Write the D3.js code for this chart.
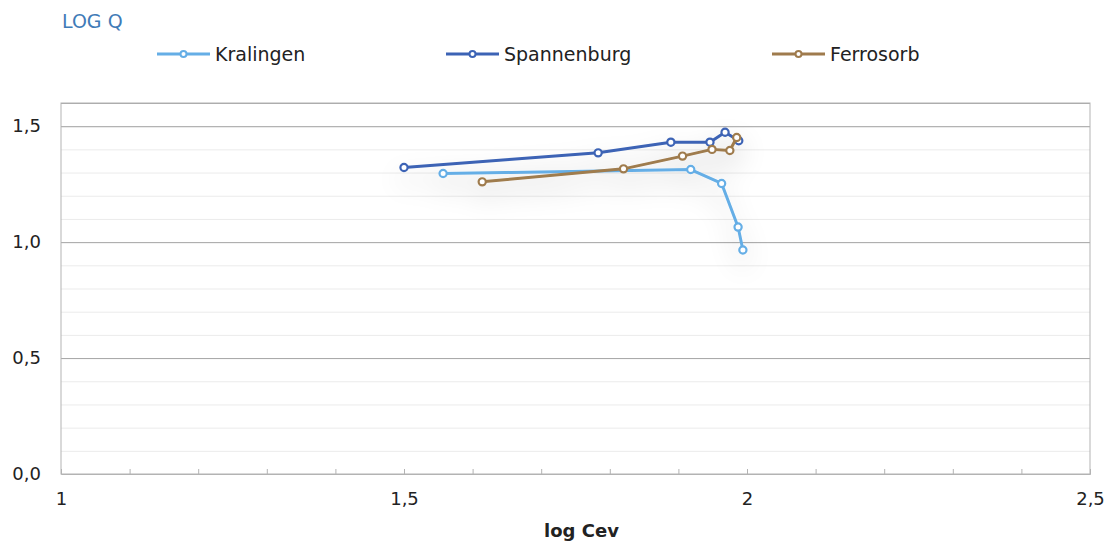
<!DOCTYPE html>
<html>
<head>
<meta charset="utf-8">
<script src="https://cdn.jsdelivr.net/npm/d3@7"></script>
<style>
  body { margin: 0; background: #fff; }
  svg text { font-family: "DejaVu Sans", sans-serif; }
</style>
</head>
<body>
<div id="chart"></div>
<script>
// series names and colours
const seriesNames = ['Kralingen', 'Spannenburg', 'Ferrosorb'];
const seriesColors = ['#65aee6', '#3c63b5', '#9f7b4d'];

// log Cev (x) and log Q (y) per series
const kralingenX = [1.557, 1.918, 1.963, 1.987, 1.994];
const kralingenY = [1.296, 1.313, 1.253, 1.065, 0.966];
const spannenburgX = [1.500, 1.783, 1.889, 1.946, 1.968, 1.988];
const spannenburgY = [1.322, 1.385, 1.431, 1.431, 1.474, 1.437];
const ferrosorbX = [1.614, 1.820, 1.906, 1.949, 1.975, 1.985];
const ferrosorbY = [1.260, 1.316, 1.371, 1.400, 1.395, 1.451];

const xTicks = [1, 1.5, 2, 2.5];
const yTicks = [0, 0.5, 1.0, 1.5];

const width = 1110;
const height = 542;
const margin = { top: 103, right: 20, bottom: 68, left: 61 };
const innerW = 1090 - margin.left;
const innerH = 474 - margin.top;

const svg = d3.select('#chart').append('svg')
  .attr('width', width)
  .attr('height', height);

const defs = svg.append('defs');
const shadow = defs.append('filter')
  .attr('id', 'soft-shadow')
  .attr('x', '-30%').attr('y', '-60%')
  .attr('width', '160%').attr('height', '260%');
shadow.append('feGaussianBlur')
  .attr('in', 'SourceAlpha')
  .attr('stdDeviation', 14)
  .attr('result', 'blur');
shadow.append('feOffset')
  .attr('in', 'blur').attr('dy', 12).attr('result', 'off');
shadow.append('feComponentTransfer')
  .attr('in', 'off').attr('result', 'faded')
  .append('feFuncA').attr('type', 'linear').attr('slope', 0.2);
const merge = shadow.append('feMerge');
merge.append('feMergeNode').attr('in', 'faded');
merge.append('feMergeNode').attr('in', 'SourceGraphic');

const chartArea = svg.append('g')
  .attr('transform', `translate(${margin.left},${margin.top})`);

const xScale = d3.scaleLinear().domain([1, 2.5]).range([0, innerW]);
const yScale = d3.scaleLinear().domain([0, 1.6]).range([innerH, 0]);

const fmt = (d) => String(d).replace('.', ',');
const fmtY = (d) => d3.format('.1f')(d).replace('.', ',');

// minor gridlines
chartArea.append('g')
  .attr('class', 'grid-minor')
  .call(d3.axisLeft(yScale).tickValues(d3.range(0.1, 1.6, 0.1)).tickSize(-innerW).tickFormat(''))
  .call((g) => g.select('.domain').remove())
  .selectAll('line')
  .style('stroke', '#ebebeb');

// major gridlines
chartArea.append('g')
  .attr('class', 'grid-major')
  .call(d3.axisLeft(yScale).tickValues([0.5, 1.0, 1.5, 1.6]).tickSize(-innerW).tickFormat(''))
  .call((g) => g.select('.domain').remove())
  .selectAll('line')
  .style('stroke', '#a6a6a6');

// plot border
chartArea.append('rect')
  .attr('width', innerW)
  .attr('height', innerH)
  .attr('fill', 'none')
  .attr('stroke', '#b3b3b3')
  .attr('stroke-width', 1);

// x axis: minor ticks inside
const xAxisG = chartArea.append('g')
  .attr('transform', `translate(0,${innerH})`)
  .call(d3.axisTop(xScale).tickValues(d3.range(1, 2.51, 0.1)).tickSize(5).tickFormat(''));
xAxisG.select('.domain').style('stroke', '#b3b3b3');
xAxisG.selectAll('line').style('stroke', '#b3b3b3');

const xLabels = chartArea.append('g')
  .attr('transform', `translate(0,${innerH})`)
  .call(d3.axisBottom(xScale).tickValues(xTicks).tickSize(0).tickPadding(18).tickFormat(fmt));
xLabels.select('.domain').remove();
xLabels.selectAll('text')
  .style('font-size', '18px')
  .style('fill', '#222');

const yLabels = chartArea.append('g')
  .call(d3.axisLeft(yScale).tickValues(yTicks).tickSize(0).tickPadding(20).tickFormat(fmtY));
yLabels.select('.domain').remove();
yLabels.selectAll('text')
  .style('font-size', '18px')
  .style('fill', '#222');

// axis title
svg.append('text')
  .attr('x', margin.left + innerW / 2 + 6)
  .attr('y', 537)
  .attr('text-anchor', 'middle')
  .style('font-size', '18px')
  .style('font-weight', 'bold')
  .style('fill', '#222')
  .text('log Cev');

// chart title
svg.append('text')
  .attr('x', 62)
  .attr('y', 28)
  .style('font-size', '19px')
  .style('fill', '#3f7bb7')
  .text('LOG Q');

const series = [
  { name: seriesNames[0], color: seriesColors[0], xs: kralingenX, ys: kralingenY },
  { name: seriesNames[1], color: seriesColors[1], xs: spannenburgX, ys: spannenburgY },
  { name: seriesNames[2], color: seriesColors[2], xs: ferrosorbX, ys: ferrosorbY },
];
series.forEach((s) => {
  s.points = s.xs.map((x, i) => ({ x, y: s.ys[i] }));
});

const line = d3.line()
  .x((d) => xScale(d.x))
  .y((d) => yScale(d.y));

const marks = chartArea.append('g').attr('filter', 'url(#soft-shadow)');

const groups = marks.selectAll('.series')
  .data(series)
  .join('g')
  .attr('class', 'series');

groups.append('path')
  .attr('d', (d) => line(d.points))
  .attr('fill', 'none')
  .attr('stroke', (d) => d.color)
  .attr('stroke-width', 3)
  .attr('stroke-linejoin', 'round');

groups.selectAll('circle')
  .data((d) => d.points.map((p) => ({ ...p, color: d.color })))
  .join('circle')
  .attr('cx', (d) => xScale(d.x))
  .attr('cy', (d) => yScale(d.y))
  .attr('r', 3.6)
  .attr('fill', '#fff')
  .attr('stroke', (d) => d.color)
  .attr('stroke-width', 2.2);

// legend
const legendX = [157, 446, 772];
const legend = svg.append('g');
series.forEach((s, i) => {
  const g = legend.append('g').attr('transform', `translate(${legendX[i]},54)`);
  g.append('line')
    .attr('x1', 0).attr('x2', 53)
    .attr('stroke', s.color)
    .attr('stroke-width', 3);
  g.append('circle')
    .attr('cx', 26.5)
    .attr('r', 3)
    .attr('fill', '#fff')
    .attr('stroke', s.color)
    .attr('stroke-width', 2);
  g.append('text')
    .attr('x', 58)
    .attr('dy', '0.35em')
    .style('font-size', '19px')
    .style('fill', '#222')
    .text(s.name);
});
</script>
</body>
</html>
